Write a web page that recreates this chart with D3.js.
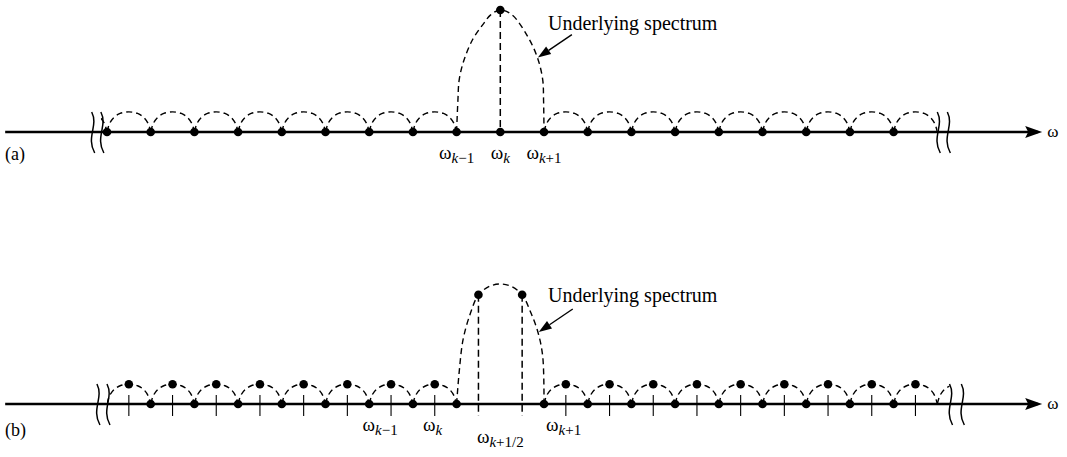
<!DOCTYPE html>
<html>
<head>
<meta charset="utf-8">
<script src="https://cdn.jsdelivr.net/npm/d3@7"></script>
<style>
  body { margin: 0; background: #fff; }
  svg { display: block; }
  text { font-family: "Liberation Serif", "Times New Roman", serif; fill: #000; }
</style>
</head>
<body>
<div id="chart"></div>
<script>
// Sample positions in units of the bin spacing, omega_k sits at 9
const samplesA = [0, 1, 2, 3, 4, 5, 6, 7, 8, 9, 10, 11, 12, 13, 14, 15, 16, 17, 18];
const samplesB = [1, 2, 3, 4, 5, 6, 7, 8, 10, 11, 12, 13, 14, 15, 16, 17, 18];
const halfSamplesB = [0.5, 1.5, 2.5, 3.5, 4.5, 5.5, 6.5, 7.5, 10.5, 11.5, 12.5, 13.5, 14.5, 15.5, 16.5, 17.5, 18.5];
// side lobes start at these bins (each spans one bin)
const sideArcStarts = [-1, 0, 1, 2, 3, 4, 5, 6, 7, 10, 11, 12, 13, 14, 15, 16, 17, 18, 19];
// shape of one side lobe: [fraction of bin, amplitude]
const sideArc = [[0, 0], [0.06, 0.07], [0.16, 0.12], [0.3, 0.152], [0.5, 0.165], [0.7, 0.152], [0.84, 0.12], [0.94, 0.07], [1, 0]];
const sideDotLevel = 0.165;
// main lobe: [offset from omega_k, amplitude]
const lobeA = [[-1, 0], [-0.97, 0.26], [-0.94, 0.43], [-0.83, 0.59], [-0.63, 0.76], [-0.4, 0.88], [-0.22, 0.96], [0, 1],
               [0.27, 0.96], [0.63, 0.78], [0.85, 0.61], [0.97, 0.43], [0.99, 0.26], [1, 0]];
const lobeB = [[-1, 0], [-0.94, 0.27], [-0.85, 0.54], [-0.68, 0.76], [-0.5, 0.91], [-0.25, 0.98], [0, 1],
               [0.25, 0.98], [0.5, 0.91], [0.7, 0.76], [0.86, 0.6], [0.97, 0.4], [1, 0]];
const lobeCenter = 9;
const peaksA = [[9, 1]];
const peaksB = [[8.5, 0.91], [9.5, 0.91]];
const labelsA = [{ sub: "k−1", at: 8 }, { sub: "k", at: 9 }, { sub: "k+1", at: 10 }];
const labelsB = [{ sub: "k−1", at: 6.25 }, { sub: "k", at: 7.45 }, { sub: "k+1/2", at: 9, low: true }, { sub: "k+1", at: 10.45 }];

const width = 1067;
const height = 457;

const x = d3.scaleLinear().domain([0, 18]).range([107, 893.6]);

const svg = d3.select('#chart')
    .append('svg')
    .attr('width', width)
    .attr('height', height);

const dashLine = d3.line().curve(d3.curveCatmullRom.alpha(0.5));

function drawPanel(cfg) {
    const y = d3.scaleLinear().domain([0, 1]).range([cfg.base, cfg.top]);
    const g = svg.append('g');

    // clip the side lobes at the axis breaks
    const clipId = 'clip-' + cfg.name;
    svg.append('clipPath').attr('id', clipId)
      .append('rect')
        .attr('x', x(cfg.clip[0])).attr('y', 0)
        .attr('width', x(cfg.clip[1]) - x(cfg.clip[0]))
        .attr('height', height);

    // axis
    g.append('line')
        .attr('x1', x(-2.33)).attr('x2', x(21.3))
        .attr('y1', y(0)).attr('y2', y(0))
        .attr('stroke', '#000').attr('stroke-width', 2.5);
    const tip = x(21.4);
    g.append('path')
        .attr('d', `M${tip},${y(0)} L${tip - 17},${y(0) - 6} L${tip - 14},${y(0)} L${tip - 17},${y(0) + 6} Z`)
        .attr('fill', '#000');
    g.append('text')
        .attr('x', tip + 5).attr('y', y(0) + 5)
        .style('font-size', '17px')
        .text('ω');

    // side lobes
    g.append('g').attr('clip-path', `url(#${clipId})`)
      .selectAll('path')
      .data(sideArcStarts)
      .enter()
      .append('path')
        .attr('d', s => dashLine(sideArc.map(p => [x(s + p[0]), y(p[1])])))
        .attr('fill', 'none').attr('stroke', '#000')
        .attr('stroke-width', 1.4).attr('stroke-dasharray', '6,4');

    // main lobe
    g.append('path')
        .attr('d', dashLine(cfg.lobe.map(p => [x(lobeCenter + p[0]), y(p[1])])))
        .attr('fill', 'none').attr('stroke', '#000')
        .attr('stroke-width', 1.4).attr('stroke-dasharray', '6,4');

    // dashed drop lines from the lobe samples
    g.selectAll('.drop')
      .data(cfg.peaks)
      .enter()
      .append('line')
        .attr('x1', d => x(d[0])).attr('x2', d => x(d[0]))
        .attr('y1', d => y(d[1])).attr('y2', y(cfg.dropEnd))
        .attr('stroke', '#000').attr('stroke-width', 1.5).attr('stroke-dasharray', '7,4');

    // tick marks at half bins (panel b)
    g.selectAll('.tick')
      .data(cfg.halfs)
      .enter()
      .append('line')
        .attr('x1', d => x(d)).attr('x2', d => x(d))
        .attr('y1', y(0.075)).attr('y2', y(-0.1))
        .attr('stroke', '#000').attr('stroke-width', 1.1);

    // dots
    g.selectAll('.dot-axis')
      .data(cfg.samples)
      .enter()
      .append('circle')
        .attr('cx', d => x(d)).attr('cy', y(0)).attr('r', 4.3);
    g.selectAll('.dot-half')
      .data(cfg.halfs)
      .enter()
      .append('circle')
        .attr('cx', d => x(d)).attr('cy', y(sideDotLevel)).attr('r', 4.3);
    g.selectAll('.dot-peak')
      .data(cfg.peaks)
      .enter()
      .append('circle')
        .attr('cx', d => x(d[0])).attr('cy', d => y(d[1])).attr('r', 4.3);

    // axis breaks
    const b0 = y(0) - 20, b1 = y(0) + 21;
    g.selectAll('.brk')
      .data(cfg.breaks)
      .enter()
      .append('path')
        .attr('d', d => {
            const bx = x(d);
            return `M${bx},${b0} C${bx + 7},${b0 + 14} ${bx - 6},${b1 - 16} ${bx + 3},${b1}`;
        })
        .attr('fill', 'none').attr('stroke', '#000').attr('stroke-width', 1.5);

    // omega labels
    const lab = g.selectAll('.lab')
      .data(cfg.labels)
      .enter()
      .append('text')
        .attr('x', d => x(d.at))
        .attr('y', d => y(0) + (d.low ? 39 : 27))
        .attr('text-anchor', 'middle')
        .style('font-size', '19px');
    lab.append('tspan').text('ω');
    lab.append('tspan')
        .attr('dy', 4)
        .style('font-size', '15px')
        .each(function (d) {
            const t = d3.select(this);
            t.append('tspan').style('font-style', 'italic').text('k');
            t.append('tspan').text(d.sub.slice(1));
        });

    // panel tag
    g.append('text')
        .attr('x', 5).attr('y', y(0) + cfg.tagDy)
        .style('font-size', '18px')
        .text(cfg.tag);

    // "Underlying spectrum" with arrow
    g.append('text')
        .attr('x', 548).attr('y', y(0) - 102)
        .style('font-size', '20px')
        .text('Underlying spectrum');
    const ax = x(cfg.arrowAt[0]), ay = y(cfg.arrowAt[1]);
    const sx = ax + 34, sy = ay - 23;
    const ang = Math.atan2(ay - sy, ax - sx);
    const hl = 13, hw = 4.5;
    const bx = ax - hl * Math.cos(ang), by = ay - hl * Math.sin(ang);
    g.append('line')
        .attr('x1', sx).attr('y1', sy).attr('x2', bx).attr('y2', by)
        .attr('stroke', '#000').attr('stroke-width', 1.4);
    g.append('path')
        .attr('d', `M${ax},${ay} L${bx - hw * Math.sin(ang)},${by + hw * Math.cos(ang)} L${bx + hw * Math.sin(ang)},${by - hw * Math.cos(ang)} Z`)
        .attr('fill', '#000');
}

drawPanel({
    name: 'a', base: 132, top: 10, lobe: lobeA, peaks: peaksA, dropEnd: 0,
    samples: samplesA, halfs: [], labels: labelsA, clip: [-0.14, 19.0],
    breaks: [-0.35, -0.14, 19.0, 19.23], tag: '(a)', tagDy: 28, arrowAt: [9.86, 0.61]
});
drawPanel({
    name: 'b', base: 404, top: 284, lobe: lobeB, peaks: peaksB, dropEnd: -0.1,
    samples: samplesB, halfs: halfSamplesB, labels: labelsB, clip: [0.0, 19.28],
    breaks: [-0.23, 0.0, 19.28, 19.55], tag: '(b)', tagDy: 32, arrowAt: [9.88, 0.6]
});
</script>
</body>
</html>
